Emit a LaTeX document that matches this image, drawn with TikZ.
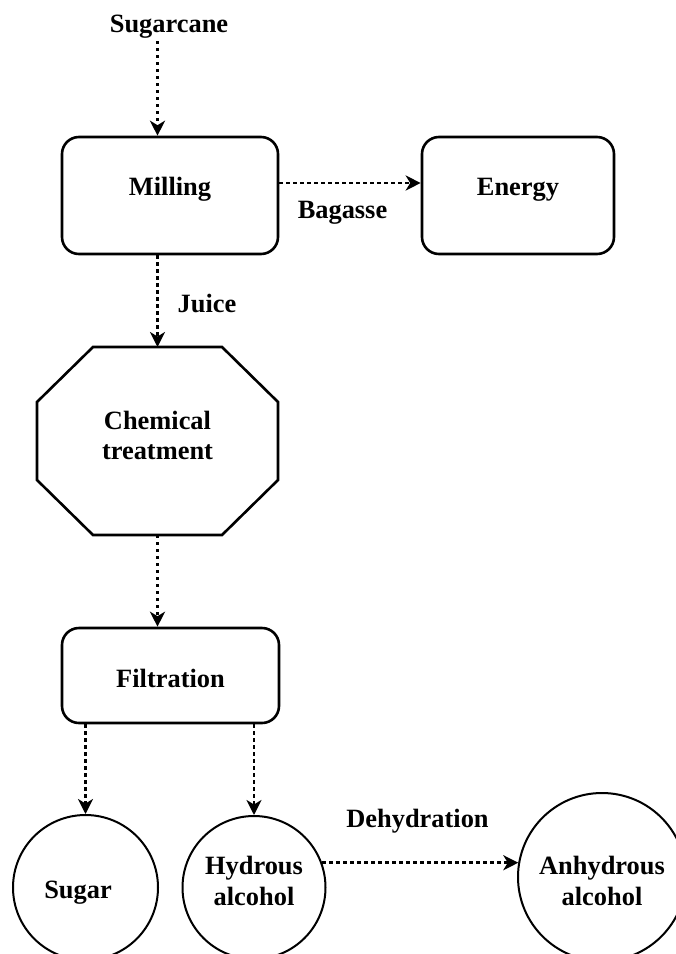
\documentclass[tikz,border=0pt]{standalone}
\usepackage{fontspec}
\setmainfont{Liberation Serif}
\usetikzlibrary{arrows.meta,calc}
\newcommand\onel[2]{\raisebox{#1}[0pt][0pt]{\makebox[0pt]{#2}}}
\newcommand\twol[4]{\onel{#1}{#2}\onel{#3}{#4}}
\begin{document}
\begin{tikzpicture}[x=1pt,y=-1pt,
  every node/.style={font=\fontsize{26.4}{30}\selectfont\bfseries, text=black},
  box/.style={draw, line width=2.6pt, rounded corners=17pt, inner sep=0pt},
  circ/.style={circle, draw, line width=2pt, inner sep=0pt},
  flow/.style={line width=2.8pt, dash pattern=on 3.4pt off 3.6pt, -{Stealth[length=15pt,width=15pt,inset=4.5pt]}},
  lbl/.style={inner sep=3pt}]
\useasboundingbox (0,0) rectangle (676,954);
\clip (0,0) rectangle (676,954);
\node[box, minimum width=216pt, minimum height=117pt] (mill) at (170,195.5) {\onel{0.5pt}{Milling}};
\node[box, minimum width=192pt, minimum height=117pt] (energy) at (518,195.5) {\onel{0.5pt}{Energy}};
\node[minimum width=241pt, minimum height=188pt, inner sep=0pt, outer sep=0pt] (chem) at (157.5,441) {\twol{12pt}{Chemical}{-18pt}{treatment}};
\draw[line width=2.6pt, line join=miter]
  ([xshift=56pt]chem.north west) -- ([xshift=-56pt]chem.north east)
  -- ([yshift=-55pt]chem.north east) -- ([yshift=55pt]chem.south east)
  -- ([xshift=-56pt]chem.south east) -- ([xshift=56pt]chem.south west)
  -- ([yshift=55pt]chem.south west) -- ([yshift=-55pt]chem.north west) -- cycle;
\node[box, minimum width=217pt, minimum height=95pt] (filt) at (170.5,675.5) {\onel{-11.5pt}{Filtration}};
\node[circ, minimum size=145pt] (sugar) at (85.5,887.5) {\onel{-10.5pt}{\kern-15pt Sugar}};
\node[circ, minimum size=143pt] (hyd) at (254,887.5) {\twol{13.5pt}{Hydrous}{-17.5pt}{alcohol}};
\node[circ, minimum size=168pt] (anh) at (602,877) {\twol{3pt}{Anhydrous}{-28pt}{alcohol}};
\node[lbl, anchor=base] (cane) at (169,32) {Sugarcane};
\node[lbl, anchor=base] (bag) at (342.5,218) {Bagasse};
\node[lbl, anchor=base] (juice) at (207,312) {Juice};
\node[lbl, anchor=base] (dehyd) at (417.5,827) {Dehydration};
\draw[flow] (cane.south -| chem.north) -- (mill.north -| chem.north);
\draw[flow] ([yshift=12.5pt]mill.east) -- ([yshift=12.5pt]energy.west);
\draw[flow] (mill.south -| chem.north) -- (chem.north);
\draw[flow] (chem.south) -- (filt.north -| chem.south);
\draw[flow] (filt.south -| sugar.north) -- (sugar.north);
\draw[flow] (filt.south -| hyd.north) -- (hyd.north);
\draw[flow] (hyd.20) -- (anh.170 |- hyd.20);
\end{tikzpicture}
\end{document}
